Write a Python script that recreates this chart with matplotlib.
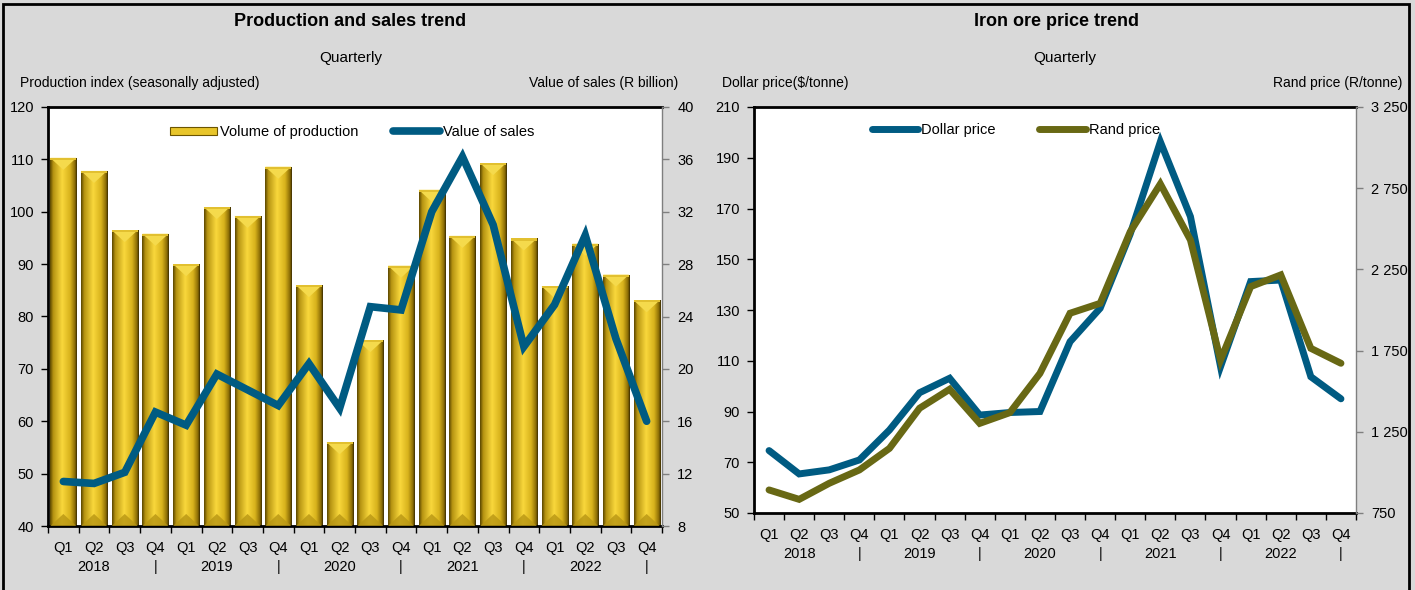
import matplotlib.pyplot as plt
import matplotlib.transforms as mtransforms
import numpy as np
from matplotlib.colors import LinearSegmentedColormap
from matplotlib.lines import Line2D
from matplotlib.patches import Patch, Polygon

plt.rcParams['font.family'] = ['Liberation Sans', 'DejaVu Sans']

# data
quarters = ['Q1', 'Q2', 'Q3', 'Q4'] * 5
years = ['2018', '2019', '2020', '2021', '2022']

production = [110.3, 107.8, 96.5, 95.8, 90.0, 100.9, 99.2, 108.6, 86.0, 56.0,
              75.5, 89.7, 104.2, 95.4, 109.3, 94.9, 85.8, 93.9, 88.0, 83.1]
sales = [11.4, 11.25, 12.1, 16.7, 15.7, 19.6, 18.4, 17.2, 20.4, 17.0,
         24.75, 24.5, 32.0, 36.2, 31.0, 21.7, 24.9, 30.2, 22.3, 16.0]

dollar = [74.6, 65.4, 67.0, 70.9, 82.7, 97.4, 103.1, 88.6, 89.6, 90.0,
          117.5, 130.7, 160.0, 196.3, 166.8, 107.7, 141.2, 141.8, 103.7, 95.0]
rand = [892, 834, 933, 1015, 1148, 1395, 1512, 1302, 1368, 1610,
        1980, 2041, 2482, 2776, 2431, 1692, 2144, 2216, 1764, 1672]

left_ticks = [40, 50, 60, 70, 80, 90, 100, 110, 120]
sales_ticks = [8, 12, 16, 20, 24, 28, 32, 36, 40]
dollar_ticks = [50, 70, 90, 110, 130, 150, 170, 190, 210]
rand_ticks = [750, 1250, 1750, 2250, 2750, 3250]
rand_labels = ['750', '1 250', '1 750', '2 250', '2 750', '3 250']

BLUE = '#005b82'
OLIVE = '#686814'
BG = '#d9d9d9'
SPINE2 = '#7f7f7f'
W, H = 1415, 590
FS = 10          # general text size
TFS = 13         # titles

gold = LinearSegmentedColormap.from_list(
    'gold', [(0.0, '#5a4600'), (0.12, '#b69412'), (0.45, '#f9d83c'),
             (0.75, '#d8b21c'), (0.93, '#8a6c05'), (1.0, '#3a2c00')])

fig = plt.figure(figsize=(W / 100, H / 100), dpi=100, facecolor=BG)
fig.patches.append(plt.Rectangle((3 / W, -0.05), 1406 / W, 1.05 - 4 / H,
                                 transform=fig.transFigure, fill=False,
                                 ec='black', lw=2))


def fx(px):
    return px / W


def fy(py):
    return 1 - py / H


def quarter_axis(ax):
    n = len(quarters)
    ax.set_xlim(-0.5, n - 0.5)
    ax.set_xticks(np.arange(-0.5, n, 1))
    ax.set_xticklabels([])
    ax.tick_params(axis='x', direction='out', length=5, width=1, color='black')
    tr = mtransforms.blended_transform_factory(ax.transData, ax.transAxes)
    tq = mtransforms.offset_copy(tr, fig=fig, x=0, y=-22, units='dots')
    ty = mtransforms.offset_copy(tr, fig=fig, x=0, y=-41, units='dots')
    for i, q in enumerate(quarters):
        ax.text(i, 0, q, transform=tq, ha='center', va='center', fontsize=FS + 0.5)
    for k, yr in enumerate(years):
        ax.text(4 * k + 1, 0, yr, transform=ty, ha='center', va='center', fontsize=FS + 0.5)
        ax.text(4 * k + 3, 0, '|', transform=ty, ha='center', va='center', fontsize=FS + 0.5)


def style_axes(ax, ax2):
    ax.set_facecolor('white')
    for s in ['left', 'top', 'bottom']:
        ax.spines[s].set_linewidth(2)
        ax.spines[s].set_color('black')
    ax.spines['right'].set_visible(False)
    for s in ['left', 'top', 'bottom']:
        ax2.spines[s].set_visible(False)
    ax2.spines['right'].set_color(SPINE2)
    ax2.spines['right'].set_linewidth(1)
    ax.tick_params(axis='y', direction='out', length=5, width=1, labelsize=FS + 0.5, pad=5)
    ax2.tick_params(axis='y', direction='out', length=5, width=1, color=SPINE2,
                    labelsize=FS + 0.5, pad=6)


# ---------------- left chart ----------------
ax1 = fig.add_axes([fx(48), fy(526), fx(614), 419 / H])
ax1b = ax1.twinx()
style_axes(ax1, ax1b)

x = np.arange(len(production))
bars = ax1.bar(x, production, width=0.85, color='none', edgecolor='none', zorder=2)
grad = np.linspace(0, 1, 128)[None, :]
floor = left_ticks[0]
cap = 2.3
for b in bars:
    x0, w, top = b.get_x(), b.get_width(), b.get_height()
    im = ax1.imshow(grad, cmap=gold, extent=[x0, x0 + w, floor, top],
                    aspect='auto', zorder=2, interpolation='bilinear')
    im.set_clip_path(b)
    xc = x0 + w / 2
    ax1.add_patch(Polygon([[x0, top], [x0 + w, top], [xc, top - cap]],
                          closed=True, fc='#f5da4c', ec='none', zorder=3))
    ax1.add_patch(Polygon([[x0, top], [x0 + w, top], [x0 + w, top - 0.4], [x0, top - 0.4]],
                          closed=True, fc='#e2c030', ec='none', zorder=3))
    ax1.add_patch(Polygon([[x0, floor], [x0 + w, floor], [xc, floor + cap]],
                          closed=True, fc='#b89614', ec='none', alpha=0.8, zorder=3))

quarter_axis(ax1)
ax1.set_ylim(left_ticks[0], left_ticks[-1])
ax1.set_yticks(left_ticks)

ax1b.plot(x, sales, color=BLUE, lw=5.5, solid_capstyle='round',
          solid_joinstyle='miter', zorder=4)
ax1b.set_ylim(sales_ticks[0], sales_ticks[-1])
ax1b.set_yticks(sales_ticks)
ax1.set_xlim(-0.5, len(quarters) - 0.5)

handles = [Patch(facecolor='#e8c52a', edgecolor='#6b5400', lw=0.8),
           Line2D([], [], color=BLUE, lw=5.5, solid_capstyle='round')]
ax1b.legend(handles, ['Volume of production', 'Value of sales'], ncol=2,
            loc='center', bbox_to_anchor=(0.495, 0.94), frameon=False,
            fontsize=FS + 0.5, handlelength=3.2, handleheight=0.5,
            handletextpad=0.2, columnspacing=2.4)

fig.text(fx(350), fy(22), 'Production and sales trend', ha='center', va='center',
         fontsize=TFS, fontweight='bold')
fig.text(fx(351), fy(58), 'Quarterly', ha='center', va='center', fontsize=FS + 1)
fig.text(fx(20), fy(83), 'Production index (seasonally adjusted)', ha='left',
         va='center', fontsize=FS)
fig.text(fx(678), fy(83), 'Value of sales (R billion)', ha='right',
         va='center', fontsize=FS)

# ---------------- right chart ----------------
ax2 = fig.add_axes([fx(754), fy(513), fx(602), 406 / H])
ax2b = ax2.twinx()
style_axes(ax2, ax2b)

ax2.plot(x, dollar, color=BLUE, lw=5, solid_capstyle='round',
         solid_joinstyle='miter', zorder=3)
ax2.set_ylim(dollar_ticks[0], dollar_ticks[-1])
ax2.set_yticks(dollar_ticks)
quarter_axis(ax2)

ax2b.plot(x, rand, color=OLIVE, lw=5, solid_capstyle='round',
          solid_joinstyle='miter', zorder=3)
ax2b.set_ylim(rand_ticks[0], rand_ticks[-1])
ax2b.set_yticks(rand_ticks)
ax2b.set_yticklabels(rand_labels)

handles = [Line2D([], [], color=BLUE, lw=5, solid_capstyle='round'),
           Line2D([], [], color=OLIVE, lw=5, solid_capstyle='round')]
ax2b.legend(handles, ['Dollar price', 'Rand price'], ncol=2, loc='center',
            bbox_to_anchor=(0.435, 0.943), frameon=False, fontsize=FS + 0.5,
            handlelength=3.2, handletextpad=0.2, columnspacing=3.0)

fig.text(fx(1057), fy(22), 'Iron ore price trend', ha='center', va='center',
         fontsize=TFS, fontweight='bold')
fig.text(fx(1065), fy(58), 'Quarterly', ha='center', va='center', fontsize=FS + 1)
fig.text(fx(722), fy(83), 'Dollar price($/tonne)', ha='left', va='center',
         fontsize=FS)
fig.text(fx(1402), fy(83), 'Rand price (R/tonne)', ha='right', va='center',
         fontsize=FS)

fig.savefig('out.png', dpi=100, facecolor=BG)
